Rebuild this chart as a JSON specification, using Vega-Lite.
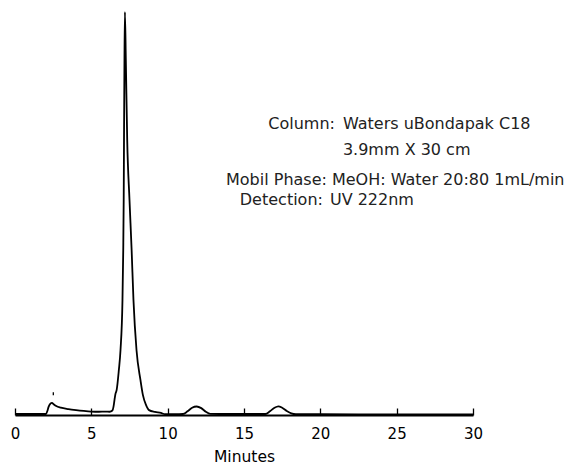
{
  "$schema": "https://vega.github.io/schema/vega-lite/v6.json",
  "width": 458,
  "height": 405,
  "autosize": {"type": "none"},
  "padding": {"left": 15, "top": 10, "right": 108, "bottom": 49},
  "background": "white",
  "config": {"view": {"stroke": null}, "font": "DejaVu Sans"},
  "datasets": {
    "trace": [
      {"t": 0, "a": 0.25}, {"t": 1.0, "a": 0.25}, {"t": 2.03, "a": 0.25}, {"t": 2.12, "a": 1.0},
      {"t": 2.2, "a": 2.0}, {"t": 2.32, "a": 2.8}, {"t": 2.42, "a": 3.0}, {"t": 2.55, "a": 2.6},
      {"t": 2.7, "a": 2.2}, {"t": 3.0, "a": 1.8}, {"t": 3.5, "a": 1.45}, {"t": 4.0, "a": 1.2},
      {"t": 4.5, "a": 1.0}, {"t": 5.0, "a": 0.85}, {"t": 5.5, "a": 0.8}, {"t": 5.9, "a": 0.85},
      {"t": 6.2, "a": 0.8}, {"t": 6.38, "a": 1.1}, {"t": 6.45, "a": 2.0}, {"t": 6.52, "a": 3.8},
      {"t": 6.58, "a": 5.2}, {"t": 6.66, "a": 6.2}, {"t": 6.8, "a": 11}, {"t": 6.91, "a": 16.0},
      {"t": 7.04, "a": 28.4}, {"t": 7.09, "a": 40.7}, {"t": 7.12, "a": 53.1}, {"t": 7.14, "a": 67.9},
      {"t": 7.17, "a": 87.6}, {"t": 7.2, "a": 99.5}, {"t": 7.26, "a": 87.6}, {"t": 7.35, "a": 67.9},
      {"t": 7.5, "a": 53.1}, {"t": 7.64, "a": 40.7}, {"t": 7.76, "a": 28.4}, {"t": 7.96, "a": 16.0},
      {"t": 8.22, "a": 8.6}, {"t": 8.38, "a": 4.9}, {"t": 8.58, "a": 2.5}, {"t": 8.78, "a": 1.2},
      {"t": 9.17, "a": 0.75}, {"t": 9.56, "a": 0.5}, {"t": 9.82, "a": 0.2}, {"t": 10.5, "a": 0.2},
      {"t": 11.0, "a": 0.25}, {"t": 11.3, "a": 0.9}, {"t": 11.6, "a": 1.8}, {"t": 11.9, "a": 2.1},
      {"t": 12.2, "a": 1.7}, {"t": 12.5, "a": 0.8}, {"t": 12.8, "a": 0.3}, {"t": 14, "a": 0.25},
      {"t": 16.4, "a": 0.25}, {"t": 16.7, "a": 0.9}, {"t": 17.0, "a": 1.8}, {"t": 17.25, "a": 2.15},
      {"t": 17.5, "a": 1.8}, {"t": 17.8, "a": 1.0}, {"t": 18.1, "a": 0.4}, {"t": 18.4, "a": 0.2},
      {"t": 20, "a": 0.2}, {"t": 25, "a": 0.15}, {"t": 30, "a": 0.15}
    ],
    "marker": [{"t": 2.51, "a1": 4.9, "a2": 5.6}],
    "labelsRight": [
      {"t": 20.96, "a": 71.85, "txt": "Column:"},
      {"t": 20.43, "a": 58.0, "txt": "Mobil Phase:"},
      {"t": 20.17, "a": 53.1, "txt": "Detection:"}
    ],
    "labelsLeft": [
      {"t": 21.48, "a": 71.85, "txt": "Waters uBondapak C18"},
      {"t": 21.48, "a": 65.43, "txt": "3.9mm X 30 cm"},
      {"t": 20.76, "a": 58.0, "txt": "MeOH: Water 20:80 1mL/min"},
      {"t": 20.63, "a": 53.1, "txt": "UV 222nm"}
    ]
  },
  "layer": [
    {
      "data": {"name": "trace"},
      "mark": {"type": "line", "color": "black", "strokeWidth": 1.8, "interpolate": "monotone"},
      "encoding": {
        "x": {
          "field": "t", "type": "quantitative",
          "scale": {"domain": [0, 30], "nice": false},
          "axis": {
            "values": [0, 5, 10, 15, 20, 25, 30],
            "title": "Minutes",
            "titleFont": "DejaVu Sans", "titleFontSize": 15.5, "titleFontWeight": "normal", "titleColor": "black",
            "titlePadding": 8,
            "labelFont": "DejaVu Sans", "labelFontSize": 15, "labelColor": "black",
            "labelFlush": false, "labelOverlap": false,
            "tickSize": -7, "tickColor": "black", "tickWidth": 1.3,
            "labelPadding": 18,
            "domainColor": "black", "domainWidth": 2.2,
            "grid": false
          }
        },
        "y": {
          "field": "a", "type": "quantitative",
          "scale": {"domain": [0, 100], "nice": false, "zero": false},
          "axis": null
        }
      }
    },
    {
      "data": {"name": "marker"},
      "mark": {"type": "rule", "color": "black", "strokeWidth": 1.3},
      "encoding": {
        "x": {"field": "t", "type": "quantitative"},
        "y": {"field": "a1", "type": "quantitative"},
        "y2": {"field": "a2"}
      }
    },
    {
      "data": {"name": "labelsRight"},
      "mark": {"type": "text", "align": "right", "baseline": "middle", "font": "DejaVu Sans", "fontSize": 16, "color": "#222"},
      "encoding": {
        "x": {"field": "t", "type": "quantitative"},
        "y": {"field": "a", "type": "quantitative"},
        "text": {"field": "txt"}
      }
    },
    {
      "data": {"name": "labelsLeft"},
      "mark": {"type": "text", "align": "left", "baseline": "middle", "font": "DejaVu Sans", "fontSize": 16, "color": "#222"},
      "encoding": {
        "x": {"field": "t", "type": "quantitative"},
        "y": {"field": "a", "type": "quantitative"},
        "text": {"field": "txt"}
      }
    }
  ]
}
